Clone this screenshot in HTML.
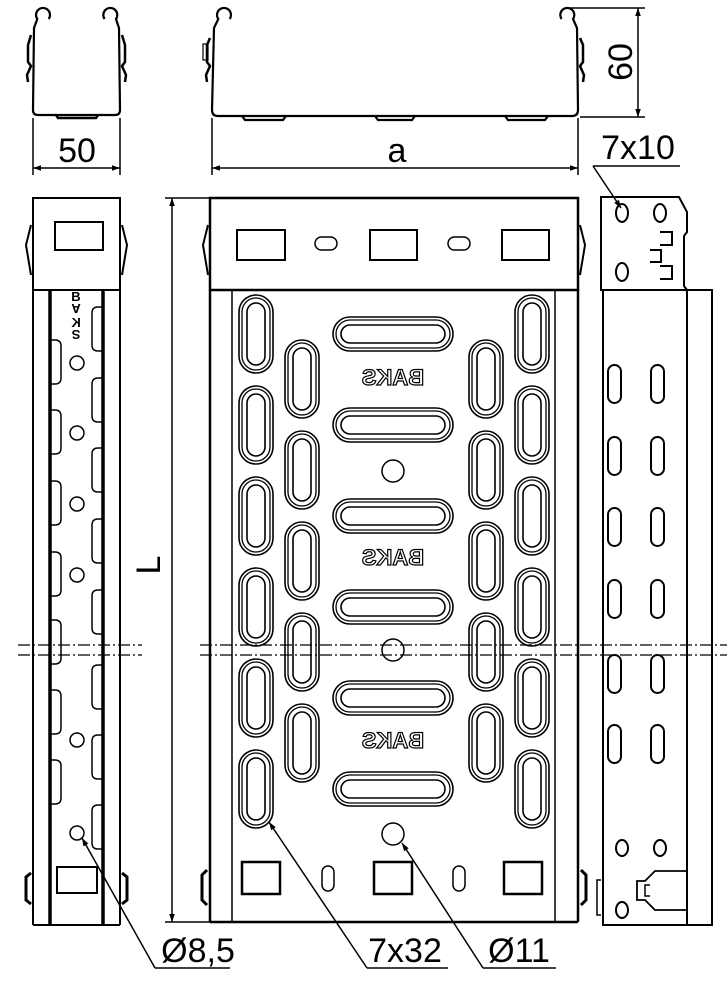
<!DOCTYPE html>
<html><head><meta charset="utf-8"><style>
html,body{margin:0;padding:0;background:#fff;}
svg{display:block;}
text{font-family:"Liberation Sans",sans-serif;fill:#000;}
</style></head><body>
<svg id="s" width="727" height="1000" viewBox="0 0 727 1000" xmlns="http://www.w3.org/2000/svg" fill="none" stroke="#000" stroke-width="1.5">
<defs>
<marker id="ar" viewBox="0 0 10 10" refX="10" refY="5" markerWidth="14" markerHeight="8" orient="auto-start-reverse" markerUnits="userSpaceOnUse"><path d="M0,1.5 L10,5 L0,8.5z" fill="#000" stroke="none"/></marker>
</defs>
<!-- top end view -->
<g stroke-width="2.2">
<path d="M48.7,19 A7,7 0 1 0 37.3,19 L34,28 L33,110 Q33,115 38,115 L115,115 Q120,115 120,110 L119,28 L116,19 A7,7 0 1 0 104.6,19"/>
<path d="M31,35 L28,45 L28,62 L31,66 L27,75 L28,82 M122,35 L125,45 L125,62 L122,66 L126,75 L125,82" stroke-width="2.5"/>
<path d="M56,115 L58,118 L96,118 L98,115" stroke-width="2.5"/>
</g>
<line x1="33" y1="118" x2="33" y2="175"/><line x1="120" y1="118" x2="120" y2="175"/>
<line x1="33" y1="168" x2="120" y2="168" marker-start="url(#ar)" marker-end="url(#ar)"/>
<text x="77" y="162" font-size="34" text-anchor="middle" stroke="none">50</text>
<!-- top front view -->
<g stroke-width="2.2">
<path d="M229.7,19 A7,7 0 1 0 218.3,19 L214,28 L212,110 Q212,116 218,116 L572,116 Q578,116 578,110 L577,28 L573,19 A7,7 0 1 0 561.6,19"/>
<path d="M210,38 L207,45 L207,62 L210,66 L206,75 L207,82 M580,38 L583,45 L583,62 L580,66 L584,75 L583,82" stroke-width="2.5"/>
<rect x="203" y="44" width="5" height="16" stroke-width="1.2"/>
<path d="M242,116 L245,120 L283,120 L286,116 M375,116 L378,120 L412,120 L415,116 M505,116 L508,120 L545,120 L548,116"/>
</g>
<line x1="212" y1="118" x2="212" y2="175"/><line x1="578" y1="118" x2="578" y2="175"/>
<line x1="212" y1="168" x2="578" y2="168" marker-start="url(#ar)" marker-end="url(#ar)"/>
<text x="397" y="162" font-size="34" text-anchor="middle" stroke="none">a</text>
<line x1="570" y1="8" x2="645" y2="8"/><line x1="580" y1="117" x2="645" y2="117"/>
<line x1="638" y1="8" x2="638" y2="117" marker-start="url(#ar)" marker-end="url(#ar)"/>
<text x="0" y="0" font-size="34" text-anchor="middle" stroke="none" transform="translate(632,62) rotate(-90)">60</text>
<!-- 7x10 -->
<text x="638" y="159" font-size="34" text-anchor="middle" stroke="none">7x10</text>
<line x1="593" y1="166" x2="680" y2="166"/>
<line x1="593" y1="166" x2="621" y2="208" marker-end="url(#ar)"/>
<!-- L dimension -->
<line x1="165" y1="198" x2="210" y2="198"/><line x1="165" y1="922" x2="210" y2="922"/>
<line x1="172" y1="198" x2="172" y2="922" marker-start="url(#ar)" marker-end="url(#ar)"/>
<text x="0" y="0" font-size="34" text-anchor="middle" stroke="none" transform="translate(160,565) rotate(-90)">L</text>
<!-- main plan -->
<g id="main" stroke-width="1.5">
<rect x="210" y="198" width="368" height="92" stroke-width="2.5"/>
<line x1="210" y1="290" x2="210" y2="922" stroke-width="2.5"/>
<line x1="578" y1="290" x2="578" y2="922" stroke-width="2.5"/>
<line x1="210" y1="922" x2="578" y2="922" stroke-width="2.5"/>
<line x1="232" y1="290" x2="232" y2="922"/><line x1="555" y1="290" x2="555" y2="922"/>
<rect x="237" y="230" width="48" height="30" stroke-width="2"/>
<rect x="370" y="230" width="47" height="30" stroke-width="2"/>
<rect x="502" y="230" width="47" height="30" stroke-width="2"/>
<rect x="315" y="237" width="22" height="13" rx="6.5"/>
<rect x="448" y="237" width="22" height="13" rx="6.5"/>
<rect x="242" y="862" width="38" height="32" stroke-width="2.5"/>
<rect x="374" y="862" width="38" height="32" stroke-width="2.5"/>
<rect x="504" y="862" width="38" height="32" stroke-width="2.5"/>
<rect x="322" y="866" width="12" height="25" rx="6"/>
<rect x="453" y="866" width="12" height="25" rx="6"/>
<path d="M208,225 L203,245 L208,275 M580,225 L585,245 L580,275" stroke-width="2"/>
<path d="M207,870 L202,875 L202,900 L207,905 M581,870 L586,875 L586,900 L581,905" stroke-width="3"/>
<circle cx="393" cy="471" r="11"/><circle cx="393" cy="650" r="11"/><circle cx="393" cy="834" r="11"/>
<g font-size="22" font-weight="bold" text-anchor="middle" fill="#fff" stroke="#000" stroke-width="1.2">
<text x="393" y="385" transform="translate(786,0) scale(-1,1)" style="fill:#fff">BAKS</text>
<text x="393" y="565" transform="translate(786,0) scale(-1,1)" style="fill:#fff">BAKS</text>
<text x="393" y="748" transform="translate(786,0) scale(-1,1)" style="fill:#fff">BAKS</text>
</g>
</g>
<!-- left side view -->
<g>
<rect x="33" y="198" width="87" height="92" stroke-width="2"/>
<rect x="55" y="222" width="48" height="28" stroke-width="2"/>
<path d="M31,225 L26,245 L31,275 M122,225 L127,245 L122,275" stroke-width="2"/>
<line x1="33" y1="290" x2="33" y2="925" stroke-width="2"/>
<line x1="120" y1="290" x2="120" y2="925" stroke-width="2"/>
<line x1="50" y1="290" x2="50" y2="925" stroke-width="3.5"/>
<line x1="103" y1="290" x2="103" y2="925" stroke-width="3.5"/>
<line x1="33" y1="925" x2="120" y2="925" stroke-width="2"/>
<rect x="57" y="867" width="40" height="26" stroke-width="2"/>
<path d="M31,873 L26,877 L26,900 L31,904 M122,873 L127,877 L127,900 L122,904" stroke-width="3"/>
<g font-size="13" font-weight="bold" text-anchor="middle" stroke="none">
<text x="76" y="301">B</text><text x="76" y="314" transform="rotate(180,76,309)">A</text><text x="76" y="327" transform="translate(152,0) scale(-1,1)">K</text><text x="76" y="340" transform="rotate(180,76,335)">S</text>
</g>
</g>
<!-- right side view -->
<g stroke-width="2">
<path d="M601,197 L679,197 L687,212 L687,232 L684,236 L684,286 L687,290 L601,290 Z"/>
<path d="M603,290 L603,925 L712,925 L712,290 L687,290 M687,290 L687,925"/>
<path d="M687,871 L655,871 L645,881 L637,881 L637,900 L645,900 L655,910 L687,910" stroke-width="1.8"/>
<path d="M650,885 L645,885 L645,896 L650,896" stroke-width="1.5"/>
<ellipse cx="622" cy="213" rx="6" ry="9"/><ellipse cx="660" cy="213" rx="6" ry="9"/><ellipse cx="622" cy="272" rx="6" ry="9"/>
<path d="M660,232 L672,232 L672,245 L660,245 M660,266 L672,266 L672,279 L660,279 M650,250 L661,250 L661,262 L650,262" stroke-width="2"/>
<ellipse cx="622" cy="848" rx="6" ry="8"/><ellipse cx="660" cy="848" rx="6" ry="8"/><ellipse cx="622" cy="910" rx="6" ry="8"/>
<path d="M601,880 L597,880 L597,915 L601,915" stroke-width="1.5"/>
</g>
<!-- break lines -->
<g stroke-width="1.2" stroke-dasharray="12,3,2,3">
<line x1="18" y1="645" x2="142" y2="645"/><line x1="18" y1="655" x2="142" y2="655"/>
<line x1="200" y1="645" x2="727" y2="645"/><line x1="200" y1="655" x2="727" y2="655"/>
</g>
<!-- leaders -->
<line x1="155" y1="968" x2="230" y2="968"/>
<line x1="155" y1="968" x2="82" y2="838" marker-end="url(#ar)"/>
<text x="198" y="962" font-size="34" text-anchor="middle" stroke="none">Ø8,5</text>
<line x1="367" y1="968" x2="448" y2="968"/>
<line x1="367" y1="968" x2="269" y2="822" marker-end="url(#ar)"/>
<text x="405" y="962" font-size="34" text-anchor="middle" stroke="none">7x32</text>
<line x1="483" y1="968" x2="556" y2="968"/>
<line x1="483" y1="968" x2="402" y2="843" marker-end="url(#ar)"/>
<text x="519" y="962" font-size="34" text-anchor="middle" stroke="none">Ø11</text>
</svg>
<script>
(function(){
var s=document.getElementById('main'),NS="http://www.w3.org/2000/svg";
function r(x,y,w,h,sw){var e=document.createElementNS(NS,'rect');e.setAttribute('x',x);e.setAttribute('y',y);e.setAttribute('width',w);e.setAttribute('height',h);e.setAttribute('rx',Math.min(w,h)/2);if(sw)e.setAttribute('stroke-width',sw);s.appendChild(e);}
function slot(x,y,w,h){r(x,y,w,h,1.6);r(x+3,y+3,w-6,h-6,1.3);r(x+8,y+8,w-16,h-16,1.6);}
[295,386,477,568,659,750].forEach(function(y){slot(239,y,34,78);slot(515,y,34,78);});
[340,431,522,613,704].forEach(function(y){slot(285,y,34,78);slot(469,y,34,78);});
[334,425,516,607,698,789].forEach(function(c){slot(333,c-17,120,34);});
var L=document.querySelector('svg');
function add(tag,a){var e=document.createElementNS(NS,tag);for(var k in a)e.setAttribute(k,a[k]);L.appendChild(e);}
[363,433,504,575,740,833].forEach(function(y){add('circle',{cx:77,cy:y,r:7});});
[340,410,481,552,620,690,760].forEach(function(y){add('path',{d:'M50,'+y+' L55,'+y+' Q61,'+y+' 61,'+(y+6)+' L61,'+(y+38)+' Q61,'+(y+44)+' 55,'+(y+44)+' L50,'+(y+44)});});
[307,378,448,519,590,665,735,805].forEach(function(y){add('path',{d:'M103,'+y+' L98,'+y+' Q92,'+y+' 92,'+(y+6)+' L92,'+(y+38)+' Q92,'+(y+44)+' 98,'+(y+44)+' L103,'+(y+44)});});
[365,437,508,580,655,725].forEach(function(y){add('rect',{x:608,y:y,width:13,height:38,rx:6.5,'stroke-width':2});add('rect',{x:651,y:y,width:13,height:38,rx:6.5,'stroke-width':2});});
})();
</script>
</body></html>
